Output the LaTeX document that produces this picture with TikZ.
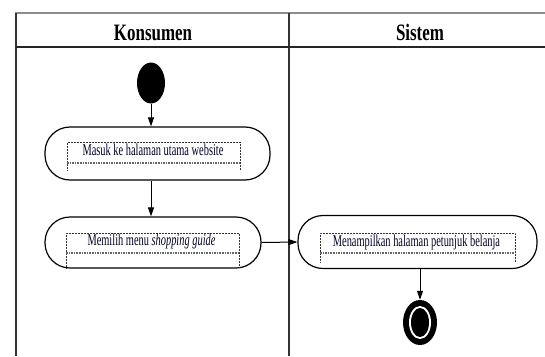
\documentclass[tikz,border=0pt]{standalone}
\usepackage{fontspec}
\setmainfont{Liberation Serif}
\newfontfamily\narrowserif[FakeStretch=0.63]{Liberation Serif}
\newfontfamily\narrowhead[FakeStretch=0.72]{Liberation Serif}
\usetikzlibrary{arrows.meta,shapes.geometric}

\tikzset{
  lane/.style={draw=black!80, line width=1.1pt},
  headtext/.style={font=\narrowhead\bfseries\fontsize{23.5}{25}\selectfont, inner sep=0pt},
  activity/.style={draw=black, line width=1.2pt, rounded corners=25pt, fill=white},
  acttext/.style={font=\narrowserif\fontsize{16.5}{18}\selectfont, inner sep=0pt, text=black!85!blue, anchor=base},
  textframe/.style={draw=black!80, line width=0.5pt, densely dotted},
  textrule/.style={draw=black!60, line width=1.6pt, densely dotted},
  flow/.style={draw=black, line width=1pt, -{Triangle[length=9pt,width=6pt]}},
  startnode/.style={ellipse, fill=black, minimum width=28pt, minimum height=41pt, inner sep=0pt},
}

\begin{document}
\begin{tikzpicture}[x=1pt,y=-1pt]
  \useasboundingbox (0,0) rectangle (545,356);

  % swimlane frame
  \draw[draw=black!45, line width=1.8pt] (15,13) -- (545,13);
  \draw[lane] (16,13) -- (16,356);
  \draw[lane] (289,13) -- (289,356);
  \draw[draw=black!85, line width=1.6pt] (16,47) -- (545,47);
  \node[headtext, anchor=base] (hk) at (153,40) {Konsumen};
  \node[headtext, anchor=base] (hs) at (420,40) {Sistem};

  % start state
  \node[startnode] (start) at (151,83) {};

  % activities
  \node[activity, minimum width=225pt, minimum height=53pt] (a1) at (157.5,153.5) {};
  \node[activity, minimum width=216pt, minimum height=51pt] (a2) at (153,242.5) {};
  \node[activity, minimum width=239pt, minimum height=53pt] (a3) at (417.5,242) {};

  % text frames inside the activities
  \draw[textframe] (67,170) -- (67,142) -- (240,142) -- (240,170);
  \draw[textrule] (67,163) -- (240,163);
  \draw[textframe] (66,268) -- (66,233) -- (239,233) -- (239,268);
  \draw[textrule] (66,253) -- (239,253);
  \draw[textframe] (320,262) -- (320,233) -- (515,233) -- (515,262);
  \draw[textrule] (320,253) -- (515,253);

  \node[acttext] (t1) at (153,155) {Masuk ke halaman utama website};
  \node[acttext] (t2) at (151.5,245) {Memilih menu \textit{shopping guide}};
  \node[acttext] (t3) at (416.5,246) {Menampilkan halaman petunjuk belanja};

  % final state
  \node[ellipse, fill=black, minimum width=34pt, minimum height=45pt, inner sep=0pt] (end) at (420,322.5) {};
  \node[ellipse, fill=white, minimum width=22pt, minimum height=33pt, inner sep=0pt] (endring) at (end.center) {};
  \node[ellipse, fill=black, minimum width=18pt, minimum height=29pt, inner sep=0pt] (endcore) at (end.center) {};

  % control flow
  \draw[flow] (start.south) -- (start.south |- a1.north);
  \draw[flow] (a1.south -| start.south) -- (a2.north -| start.south);
  \draw[flow] (a2.east) -- (a3.west);
  \draw[flow] (a3.south -| end.north) -- (end.north);
\end{tikzpicture}
\end{document}
